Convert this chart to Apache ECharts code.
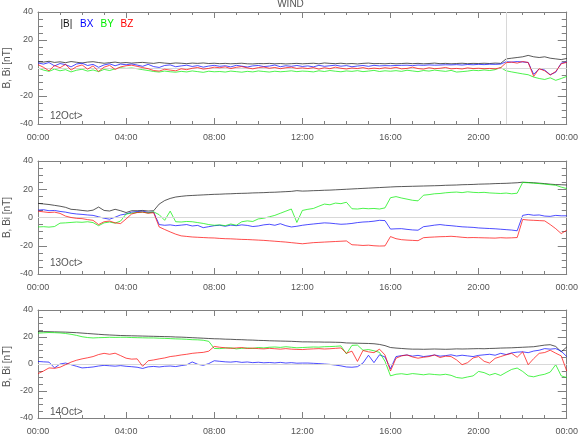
<!DOCTYPE html>
<html><head><meta charset="utf-8">
<script src="https://cdn.jsdelivr.net/npm/echarts@6/dist/echarts.min.js"></script>
<style>html,body{margin:0;padding:0;background:#fff}#c{width:581px;height:436px}</style>
</head><body><div id="c"></div>
<script>
// time grid: 15-minute samples, hours 0..24
const hours = Array.from({length: 97}, (_, i) => i * 0.25);
const xTickLabels = ['00:00','04:00','08:00','12:00','16:00','20:00','00:00'];
const yTicks = [-40, -20, 0, 20, 40];
const panelLabels = ['12Oct>', '13Oct>', '14Oct>'];
const legendNames = ['|B|', 'BX', 'BY', 'BZ'];
const shockHour12 = 21.27;

// ---- 12 Oct ----
const bmag12 = [4.5,4.2,4.8,4.0,4.4,3.8,4.6,4.1,3.6,4.2,4.5,3.9,3.4,3.8,4.2,3.6,3.9,
 3.5,3.8,4.0,3.6,3.3,3.9,3.5,3.2,3.6,3.4,3.1,3.5,3.3,3.6,3.2,3.4,
 3.1,3.3,3.0,3.2,3.4,3.0,2.9,3.2,3.1,3.3,3.0,3.2,2.9,3.1,3.3,3.0,
 3.2,3.4,3.0,3.6,3.3,3.1,3.4,3.0,3.2,2.9,3.3,3.5,3.1,3.2,3.0,3.3,
 3.0,3.2,3.4,3.1,3.3,3.0,3.2,3.5,3.1,3.3,3.0,3.2,3.4,3.1,3.3,3.2,
 3.4,3.2,3.5,3.3,6.5,7.0,7.5,8.0,9.0,8.0,7.5,8.0,7.0,6.5,6.0,6.8];
const bx12 = [3.6,2.8,3.9,1.5,3.2,2.4,0.8,2.9,3.4,1.8,2.6,0.5,2.2,3.0,1.6,2.8,2.3,
 2.9,2.1,1.2,2.6,1.0,0.4,1.8,2.2,0.9,1.5,2.0,1.1,1.7,0.6,1.4,1.9,
 1.2,1.6,0.8,1.9,1.3,0.7,1.5,1.8,1.0,1.4,2.1,0.9,1.6,1.2,1.8,1.1,
 1.5,0.8,1.9,1.2,1.6,2.0,1.3,1.7,0.9,1.4,1.8,1.2,1.9,1.5,1.7,1.6,
 1.8,1.9,2.0,1.7,2.1,1.9,2.2,2.0,2.1,2.3,2.2,2.4,2.1,2.5,2.3,2.6,
 2.4,2.7,2.6,2.8,4.5,4.2,4.6,4.3,4.0,-4.5,-0.5,-1.5,-4.8,-3.0,3.5,4.3];
const by12 = [0.0,-1.5,-2.4,-0.8,-2.0,-1.2,-2.8,-1.6,-0.9,-2.2,-1.4,-2.6,-1.0,-1.8,-0.6,0.2,-0.3,
 0.0,-0.5,-1.2,-1.8,-2.5,-2.9,-2.2,-2.7,-3.0,-2.4,-2.8,-2.1,-2.6,-3.1,-2.3,-2.7,
 -2.5,-2.9,-2.2,-2.6,-3.0,-2.4,-2.8,-2.1,-2.5,-2.9,-2.3,-2.7,-2.4,-2.0,-2.6,-2.2,
 -2.4,-2.8,-2.0,-2.5,-1.8,-2.3,-2.7,-2.1,-2.4,-1.9,-2.6,-2.2,-1.7,-2.5,-2.0,-2.3,
 -1.9,-2.4,-1.6,-2.1,-2.6,-1.8,-2.2,-1.5,-2.0,-2.4,-1.7,-2.9,-2.6,-2.2,-1.6,-1.9,
 -1.4,-1.8,-1.2,0.3,-2.0,-2.8,-3.5,-4.2,-4.8,-6.5,-7.5,-8.2,-7.0,-8.8,-7.5,-6.0];
const bz12 = [2.4,0.5,-2.0,1.8,0.2,2.6,-1.5,1.0,2.2,-0.8,1.5,-2.4,0.6,1.9,-1.0,0.8,1.6,
 2.0,1.2,0.3,-0.5,-1.8,-2.2,-0.9,-1.5,-2.0,-0.6,-1.2,-0.2,0.4,-0.8,-0.3,0.6,
 0.2,0.8,-0.4,0.5,1.0,0.1,-0.6,0.3,0.7,-0.2,0.4,-0.5,0.2,0.6,-0.3,0.1,
 -0.4,0.3,-0.8,0.2,-0.5,0.6,-0.2,-0.7,0.0,-0.4,0.3,-0.6,-0.1,-0.5,0.2,-0.3,
 0.5,-0.6,-0.3,0.6,-0.4,-0.8,0.2,-0.5,-0.2,0.4,-0.6,-0.3,-0.7,0.1,-0.4,-0.2,
 -0.5,-0.3,-0.6,0.2,3.8,4.2,3.5,4.6,3.9,-6.0,-0.5,-2.0,-5.0,-2.5,3.0,4.0];

// ---- 13 Oct ----
const bmag13 = [10.0,9.6,9.2,8.6,8.0,7.2,5.8,5.5,5.0,4.6,5.2,7.4,5.0,4.6,5.8,4.8,3.5,
 4.8,4.8,5.0,4.6,4.8,9.5,12.0,13.5,14.5,15.0,15.4,15.6,15.8,16.0,16.2,16.4,
 16.5,16.7,16.8,17.0,17.1,17.2,17.4,17.5,17.6,17.8,17.9,18.1,18.3,18.5,19.0,18.7,
 18.8,19.0,19.1,19.3,19.4,19.6,19.8,20.0,20.2,20.4,20.6,20.8,21.0,21.2,21.4,21.6,
 21.8,21.9,22.0,22.1,22.2,22.3,22.4,22.5,22.6,22.8,22.9,23.0,23.2,23.3,23.4,23.6,
 23.7,23.8,24.0,24.1,24.2,24.4,24.6,25.0,24.8,24.6,24.3,24.0,23.6,23.3,23.2,23.0];
const bx13 = [5.2,5.5,4.8,5.0,4.3,3.8,3.0,2.5,2.2,1.8,1.5,0.5,-0.5,-1.2,0.2,1.8,2.5,
 3.8,4.2,4.5,3.6,3.8,-5.0,-5.5,-5.2,-5.8,-5.4,-5.0,-6.0,-5.6,-7.2,-6.5,-5.8,
 -5.5,-6.2,-5.4,-5.8,-5.2,-5.6,-6.4,-6.0,-5.2,-4.8,-5.5,-4.4,-5.8,-6.7,-6.2,-5.5,
 -5.0,-4.6,-4.2,-3.8,-4.0,-4.4,-4.8,-4.6,-4.2,-3.6,-3.2,-3.0,-2.6,-2.0,-2.2,-8.2,
 -8.0,-7.9,-8.4,-8.8,-9.0,-6.5,-6.0,-5.4,-5.0,-5.5,-5.8,-6.2,-6.6,-6.8,-7.0,-7.4,
 -7.6,-7.8,-8.0,-8.3,-8.6,-8.9,-9.4,1.5,2.2,1.6,1.8,1.0,0.8,1.5,1.2,1.2];
const by13 = [-6.7,-6.5,-6.8,-6.4,-4.0,-3.8,-3.5,-3.2,-3.4,-3.0,-3.6,-5.8,-3.8,-3.2,-4.0,-2.5,2.5,
 3.0,3.6,3.8,3.2,4.0,2.0,-2.0,4.5,-3.0,-3.2,-2.8,-3.0,-3.6,-4.2,-5.0,-5.5,
 -5.2,-5.8,-4.6,-5.5,-3.0,-2.4,-2.8,-1.0,-0.5,0.5,1.5,3.0,4.5,6.0,-3.5,5.0,
 5.8,6.4,8.0,9.5,9.0,10.2,9.8,10.8,6.2,6.0,6.5,6.2,6.4,6.0,6.8,14.0,
 14.8,13.8,13.0,12.2,11.8,15.8,16.2,16.8,17.0,17.5,17.8,18.0,17.6,18.2,17.8,17.6,
 17.8,17.4,17.2,17.0,17.3,16.8,17.2,24.8,24.6,24.3,24.0,23.6,23.2,22.8,21.5,20.5];
const bz13 = [4.5,4.0,3.5,3.8,2.9,1.0,0.0,-0.6,-0.8,-1.5,-2.0,-5.0,-3.0,-2.5,-3.8,-4.3,-1.0,
 2.5,3.5,3.8,3.0,3.4,-6.7,-8.5,-10.2,-11.8,-13.0,-13.4,-13.8,-14.0,-14.2,-14.4,-14.5,
 -14.8,-15.0,-15.1,-15.3,-15.5,-15.6,-15.8,-16.0,-16.2,-16.5,-16.8,-17.1,-17.4,-17.8,-18.2,-18.6,
 -18.2,-17.8,-17.6,-17.4,-17.2,-17.0,-16.8,-16.6,-19.3,-19.5,-19.8,-19.6,-20.0,-20.2,-20.1,-13.5,
 -15.0,-15.7,-16.0,-16.2,-16.4,-14.3,-14.0,-13.8,-13.6,-13.5,-13.3,-13.6,-14.0,-14.3,-14.2,-14.3,
 -14.4,-14.5,-14.6,-14.3,-14.5,-14.4,-14.2,-1.4,-1.8,-2.0,-2.2,-2.4,-5.0,-7.9,-11.4,-9.0];

// ---- 14 Oct ----
const bmag14 = [24.0,24.0,23.9,23.8,23.7,23.6,23.4,23.2,22.9,22.6,22.3,22.0,21.7,21.5,21.3,21.1,21.0,
 20.9,20.8,20.7,20.6,20.5,20.4,20.3,20.2,20.0,19.9,19.7,19.5,19.3,19.1,18.9,18.7,
 18.6,18.4,18.3,18.1,18.0,17.8,17.7,17.5,17.4,17.2,17.1,17.0,16.9,16.8,16.6,16.4,
 16.4,16.3,16.3,16.2,16.2,16.1,16.0,15.6,15.5,15.4,15.3,15.2,15.0,14.5,13.6,12.2,
 11.8,11.5,11.2,11.0,11.0,10.9,11.0,11.1,11.0,10.9,11.0,11.2,11.1,11.2,11.3,11.4,
 11.3,11.5,11.6,11.8,11.9,12.0,12.2,12.4,12.6,12.8,13.4,14.0,14.3,13.0,9.0,12.6];
const bx14 = [1.9,1.6,1.4,-2.9,0.0,0.7,-0.5,-1.7,-2.9,-2.6,-2.2,-1.5,-1.0,-1.3,-1.6,-1.2,-1.7,
 -2.0,-2.4,-3.3,-2.1,-1.8,-2.2,-1.7,-1.5,-1.9,-1.2,-0.6,1.5,-0.2,-1.0,0.3,2.4,
 2.0,1.6,1.4,1.8,1.2,1.5,1.0,1.3,0.9,1.1,0.8,1.2,0.7,1.0,0.6,0.7,
 0.7,0.5,0.3,0.0,-0.3,-0.8,-1.4,-2.2,-2.4,-2.0,0.7,6.5,1.0,6.8,5.2,-3.5,
 5.5,6.2,6.7,5.8,6.4,5.5,6.0,6.7,5.8,6.2,6.8,5.9,6.5,6.0,5.5,6.4,
 6.8,7.2,6.5,7.9,7.0,8.2,8.8,9.0,8.4,9.6,10.2,11.4,11.0,11.4,9.5,5.5];
const by14 = [22.9,23.1,23.3,23.2,23.0,22.6,22.0,21.2,20.2,19.6,19.3,19.5,19.6,19.8,19.7,19.8,19.8,
 19.6,19.5,19.4,19.3,19.3,19.1,19.0,18.8,18.6,18.5,18.3,18.0,17.9,17.6,16.8,11.5,
 11.4,11.8,12.0,11.2,11.6,11.9,11.5,12.2,11.9,12.4,12.6,12.3,12.8,12.4,12.0,12.2,
 12.4,12.6,12.5,12.8,12.9,13.1,13.4,7.5,13.8,14.0,10.2,10.7,9.8,8.6,2.0,-8.8,
 -7.6,-7.2,-7.8,-7.1,-7.5,-8.0,-7.4,-7.8,-8.1,-7.6,-8.4,-10.0,-10.5,-9.6,-8.8,-5.5,
 -6.4,-8.2,-7.0,-8.5,-6.2,-4.0,-3.0,-5.5,-8.8,-9.5,-8.4,-7.6,-6.0,-0.5,-8.8,-10.0];
const bz14 = [-7.1,-5.2,-2.9,-3.2,-2.4,-0.5,1.4,2.8,3.8,4.6,5.5,7.0,7.9,7.2,8.0,6.2,4.3,
 3.6,3.8,-1.7,2.4,3.0,3.8,4.5,5.5,6.0,6.7,7.2,7.9,8.3,8.6,9.5,13.0,
 12.4,12.0,11.6,11.9,12.2,11.5,11.8,11.4,11.2,11.6,11.3,11.0,11.4,11.0,10.8,10.7,
 11.0,11.2,11.4,11.1,11.3,11.6,11.9,8.0,9.5,1.9,10.0,9.0,8.4,11.0,6.7,-5.2,
 4.3,6.0,6.7,5.2,4.3,5.0,5.5,6.7,4.8,5.8,5.5,3.0,-0.5,1.0,4.5,5.5,
 2.0,0.7,4.2,5.5,6.8,7.9,5.0,9.0,-0.5,4.0,7.9,8.5,10.2,8.0,6.0,-5.2];

const panels = [
  [bmag12, bx12, by12, bz12],
  [bmag13, bx13, by13, bz13],
  [bmag14, bx14, by14, bz14]
];
const colors = ['#111111', '#0000ff', '#00ee00', '#ff0000'];

const FONT = '"Liberation Sans",Arial,sans-serif';
const TXT = '#555';
const AX = '#808080';

const gridTops = [12, 161, 310];
const gridH = [112, 113, 113];
const grid = gridTops.map((t, i) => ({left: 38, top: t, width: 530, height: gridH[i]}));

const xAxis = [], yAxis = [], series = [];
grid.forEach((g, p) => {
  const tick = {show: true, inside: true, length: 6, lineStyle: {color: AX}};
  const minor = {show: true, splitNumber: 4, length: 3, lineStyle: {color: AX}};
  xAxis.push({type: 'value', gridIndex: p, min: 0, max: 24, interval: 4, position: 'bottom',
    axisLine: {show: true, onZero: false, lineStyle: {color: AX}},
    axisTick: tick, minorTick: minor, splitLine: {show: false},
    axisLabel: {show: true, margin: 9, color: TXT, fontFamily: FONT, fontSize: 9,
      formatter: v => xTickLabels[Math.round(v / 4)]}});
  xAxis.push({type: 'value', gridIndex: p, min: 0, max: 24, interval: 4, position: 'top',
    axisLine: {show: true, onZero: false, lineStyle: {color: AX}},
    axisTick: tick, minorTick: minor, splitLine: {show: false}, axisLabel: {show: false}});
  const ytick = {show: true, inside: true, length: 9, lineStyle: {color: AX}};
  const yminor = {show: true, splitNumber: 4, length: 5, lineStyle: {color: AX}};
  yAxis.push({type: 'value', gridIndex: p, min: yTicks[0], max: yTicks[yTicks.length - 1], interval: 20, position: 'left',
    axisLine: {show: true, onZero: false, lineStyle: {color: AX}},
    axisTick: ytick, minorTick: yminor, splitLine: {show: false},
    axisLabel: {show: true, margin: 5, color: TXT, fontFamily: FONT, fontSize: 9}});
  yAxis.push({type: 'value', gridIndex: p, min: -40, max: 40, interval: 20, position: 'right',
    axisLine: {show: true, onZero: false, lineStyle: {color: AX}},
    axisTick: ytick, minorTick: yminor, splitLine: {show: false}, axisLabel: {show: false}});

  const ml = [{yAxis: 0}];
  if (p === 0) ml.push({xAxis: shockHour12});
  series.push({type: 'line', xAxisIndex: 2 * p, yAxisIndex: 2 * p, data: [], silent: true,
    markLine: {silent: true, symbol: 'none', label: {show: false}, animation: false,
      lineStyle: {color: '#d8d8d8', type: 'solid', width: 1}, data: ml}, z: 1});
  panels[p].forEach((arr, k) => {
    series.push({type: 'line', name: legendNames[k], xAxisIndex: 2 * p, yAxisIndex: 2 * p,
      data: hours.map((h, i) => [h, arr[i]]), showSymbol: false, symbol: 'none', silent: true,
      lineStyle: {color: colors[k], width: 0.7}, itemStyle: {color: colors[k]}, z: 2 + k});
  });
});

const graphic = [];
graphic.push({type: 'text', x: 290.5, y: 4, style: {text: 'WIND', fill: TXT, font: '10px ' + FONT, textAlign: 'center', textVerticalAlign: 'middle'}});
const legX = [60.5, 80, 100.5, 120.5];
legendNames.forEach((n, k) => graphic.push({type: 'text', x: legX[k], y: 24,
  style: {text: n, fill: colors[k], font: '10px ' + FONT, textAlign: 'left', textVerticalAlign: 'middle'}}));
const labY = [116.5, 263, 412];
panelLabels.forEach((t, p) => {
  graphic.push({type: 'text', x: 50, y: labY[p], style: {text: t, fill: TXT, font: '10px ' + FONT, textAlign: 'left', textVerticalAlign: 'middle'}});
  graphic.push({type: 'text', x: 7, y: gridTops[p] + gridH[p] / 2, rotation: Math.PI / 2,
    style: {text: 'B, Bi [nT]', fill: TXT, font: '10px ' + FONT, textAlign: 'center', textVerticalAlign: 'middle'}});
});

const chart = echarts.init(document.getElementById('c'), null, {renderer: 'canvas'});
chart.setOption({animation: false, backgroundColor: '#fff', grid, xAxis, yAxis, series, graphic});
</script></body></html>
